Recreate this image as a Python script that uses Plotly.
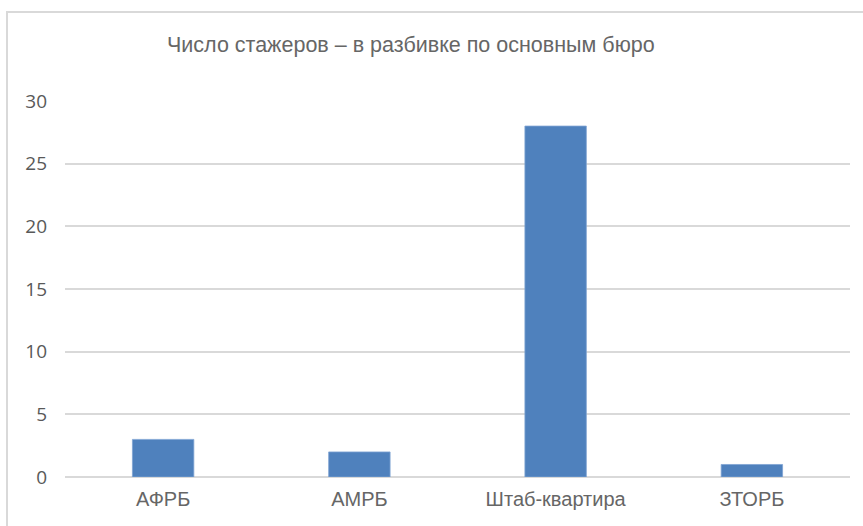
import plotly.graph_objects as go

categories = ["АФРБ", "АМРБ", "Штаб-квартира", "ЗТОРБ"]
values = [3, 2, 28, 1]
y_ticks = [0, 5, 10, 15, 20, 25, 30]
title_text = "Число стажеров – в разбивке по основным бюро"

W, H = 863, 526
L, R, T, B = 65, 13, 101, 49
pw, ph = W - L - R, H - T - B

def px_x(x):
    return (x - L) / pw

def px_y(y):
    return 1 + (T - y) / ph

sans = "Liberation Sans, Arial, sans-serif"

fig = go.Figure(go.Bar(
    x=categories, y=values,
    marker=dict(color="#4F81BD", line=dict(color="#7FA3D3", width=0.8)),
    hoverinfo="x+y",
))

fig.update_layout(
    width=W, height=H,
    margin=dict(l=L, r=R, t=T, b=B),
    paper_bgcolor="white", plot_bgcolor="white",
    bargap=0.687,
    showlegend=False,
    xaxis=dict(
        showgrid=False, showline=False, zeroline=False,
        tickfont=dict(family=sans, size=20, color="#666666"),
        ticks="outside", ticklen=4, tickcolor="rgba(0,0,0,0)",
    ),
    yaxis=dict(
        range=[0, 30], tickvals=y_ticks,
        showgrid=True, gridcolor="#d9d9d9", gridwidth=2,
        zeroline=True, zerolinecolor="#d9d9d9", zerolinewidth=2,
        showline=False,
        tickfont=dict(family="Open Sans, Noto Sans, sans-serif", size=19, color="#595959"),
        ticklabelstandoff=17,
    ),
    annotations=[dict(
        text=title_text, xref="paper", yref="paper",
        x=px_x(411), y=px_y(45), xanchor="center", yanchor="middle",
        showarrow=False,
        font=dict(family=sans, size=21.5, color="#666666"),
    )],
    shapes=[dict(
        type="rect", xref="paper", yref="paper",
        x0=px_x(7), x1=px_x(W + 40), y0=px_y(H + 40), y1=px_y(12),
        line=dict(color="#d9d9d9", width=2), fillcolor="rgba(0,0,0,0)", layer="below",
    )],
)

fig.write_html("out.html")
